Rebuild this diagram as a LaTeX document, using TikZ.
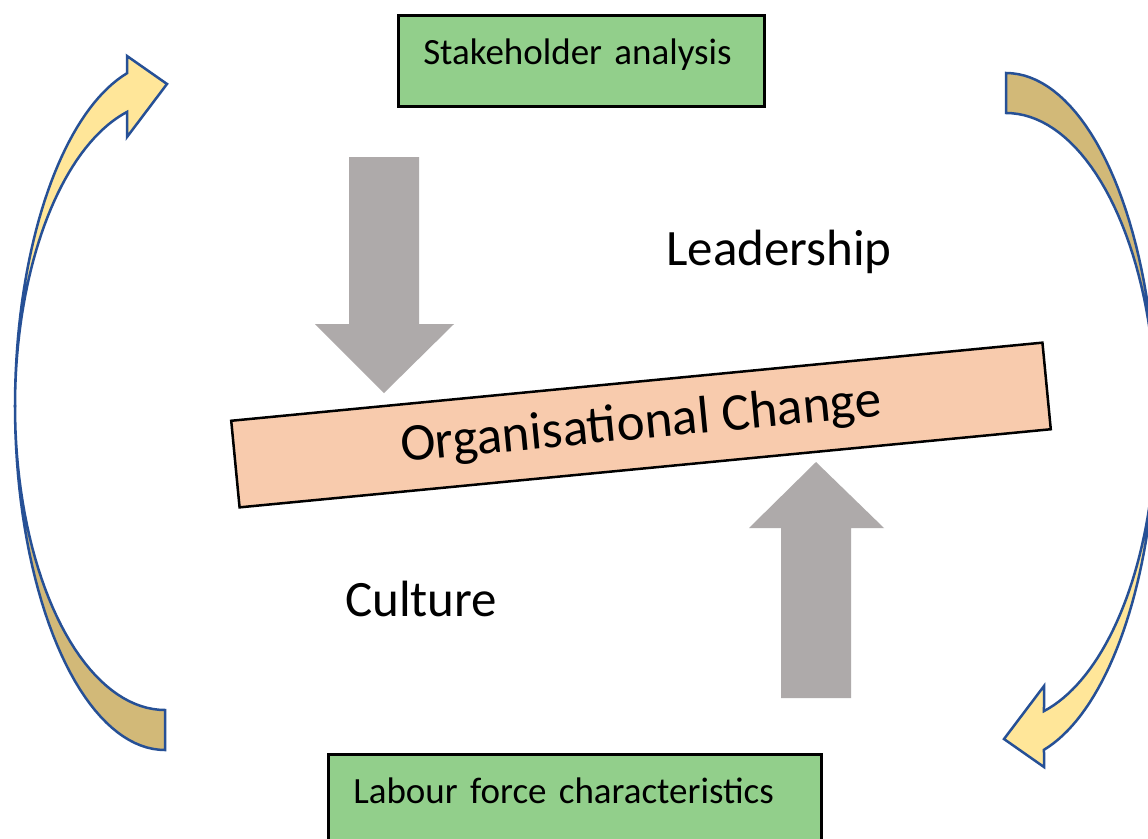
\documentclass[tikz,border=0pt]{standalone}
\usepackage{fontspec}
\setmainfont{Carlito}
\usepackage{tikz}
\definecolor{boxgreen}{RGB}{146,207,139}
\definecolor{changefill}{RGB}{248,203,173}
\definecolor{arrowgray}{RGB}{174,170,170}
\definecolor{bendlight}{RGB}{255,230,153}
\definecolor{benddark}{RGB}{210,185,120}
\definecolor{bendblue}{RGB}{38,80,150}
\tikzset{
  greenbox/.style={draw=black, line width=2.5pt, fill=boxgreen, anchor=north west,
    inner xsep=25pt, inner ysep=0pt, align=left, text height=49pt,
    font=\fontsize{37}{44}\selectfont},
  changebox/.style={draw=black, line width=2.5pt, fill=changefill, rotate=5.5,
    minimum width=815pt, minimum height=87pt, inner sep=0pt,
    font=\fontsize{53}{64}\selectfont},
  bigword/.style={anchor=base west, inner sep=0pt, font=\fontsize{51}{61}\selectfont},
  blockarrow/.style={fill=arrowgray},
  bendfront/.style={fill=bendlight, draw=bendblue, line width=2.5pt},
  bendback/.style={fill=benddark, draw=bendblue, line width=2.5pt}
}

\begin{document}
\begin{tikzpicture}[x=1pt,y=-1pt]
		\fill[white] (0,0) rectangle (1148,838);
		\useasboundingbox (0,0) rectangle (1148,838);
		
		% curved arrows, the right one is the left one turned round
		\foreach \ang in {0,180}{
			\begin{scope}[rotate around={\ang:(585.5,411.5)}]
				\filldraw[bendback] plot[variable=\t, domain=90:180, samples=40] ({165+150*cos(\t)},{406+344*sin(\t)})
					-- plot[variable=\t, domain=180:90, samples=40] ({165+150*cos(\t)},{406+304*sin(\t)}) -- cycle;
				\filldraw[bendfront] plot[variable=\t, domain=180:255.33, samples=40] ({165+150*cos(\t)},{406+344*sin(\t)})
					-- (127,56) -- (167,84) -- (127,137)
					-- plot[variable=\t, domain=255.33:180, samples=40] ({165+150*cos(\t)},{406+304*sin(\t)}) -- cycle;
			\end{scope}
		}
		
		% grey block arrows
		\fill[blockarrow] (349,157)--(419,157)--(419,324)--(454,324)--(384,393)--(315,324)--(349,324)--cycle;
		\fill[blockarrow] (781,698)--(851,698)--(851,528)--(884,528)--(816,462)--(749,528)--(781,528)--cycle;
		
		\node (stake) at (397,14) [greenbox, text width=316pt, text depth=42pt] {Stakeholder analysis};
		\node (labour) at (327,753) [greenbox, text width=443pt, text depth=80pt] {Labour force characteristics};
		\node (change) at (641,425) [changebox] {Organisational Change};
		\node (lead) at (666,265) [bigword] {Leadership};
		\node (culture) at (345,616) [bigword] {Culture};
		
\end{tikzpicture}
\end{document}
